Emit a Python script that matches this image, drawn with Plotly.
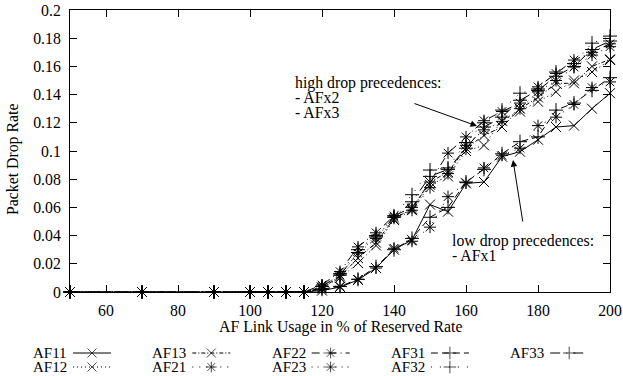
import plotly.graph_objects as go

# ---------------- data ----------------
usage = [50, 70, 90, 100, 105, 110, 115, 120, 125, 130, 135, 140, 145, 150, 155,
         160, 165, 170, 175, 180, 185, 190, 195, 200]
Z = [0, 0, 0, 0, 0, 0, 0]
af11 = Z + [0.001, 0.0035, 0.0085, 0.017, 0.030, 0.037, 0.062, 0.057, 0.077, 0.078,
            0.096, 0.0995, 0.108, 0.117, 0.118, 0.130, 0.141]
af12 = Z + [0.003, 0.010, 0.0205, 0.033, 0.051, 0.058, 0.076, 0.082, 0.100, 0.104,
            0.1215, 0.128, 0.135, 0.142, 0.150, 0.156, 0.1645]
af13 = Z + [0.003, 0.011, 0.024, 0.035, 0.052, 0.059, 0.078, 0.085, 0.102, 0.111,
            0.117, 0.130, 0.138, 0.148, 0.148, 0.160, 0.165]
af21 = Z + [0.002, 0.004, 0.009, 0.017, 0.031, 0.036, 0.046, 0.0676, 0.0775, 0.088,
            0.097, 0.102, 0.118, 0.124, 0.133, 0.145, 0.149]
af22 = Z + [0.005, 0.0145, 0.032, 0.042, 0.054, 0.060, 0.078, 0.0985, 0.110, 0.1215,
            0.128, 0.134, 0.1455, 0.155, 0.1645, 0.170, 0.176]
af23 = Z + [0.004, 0.012, 0.0275, 0.038, 0.053, 0.058, 0.074, 0.084, 0.104, 0.115,
            0.121, 0.130, 0.142, 0.150, 0.1595, 0.168, 0.174]
af31 = Z + [0.002, 0.004, 0.009, 0.018, 0.030, 0.038, 0.053, 0.060, 0.078, 0.087,
            0.098, 0.1066, 0.110, 0.129, 0.134, 0.143, 0.152]
af32 = Z + [0.004, 0.013, 0.030, 0.040, 0.054, 0.069, 0.0865, 0.088, 0.106, 0.120,
            0.129, 0.141, 0.144, 0.156, 0.162, 0.1765, 0.1815]
af33 = Z + [0.004, 0.012, 0.028, 0.039, 0.053, 0.064, 0.082, 0.087, 0.102, 0.117,
            0.124, 0.136, 0.143, 0.153, 0.160, 0.172, 0.178]

names = ["AF11", "AF12", "AF13", "AF21", "AF22", "AF23", "AF31", "AF32", "AF33"]
values = [af11, af12, af13, af21, af22, af23, af31, af32, af33]
symbols = ["x-thin", "x-thin", "x-thin", "asterisk-open", "asterisk-open", "asterisk-open",
           "cross-thin", "cross-thin", "cross-thin"]
dashes = ["solid", "1px,3px", "4px,2px,1px,2px", "1px,6px", "8px,4px,1px,4px",
          "1px,5px", "7px,4px", "1px,8px", "10px,6px,1px,6px"]

xtick_vals = [60, 80, 100, 120, 140, 160, 180, 200]
ytick_vals = [0, 0.02, 0.04, 0.06, 0.08, 0.1, 0.12, 0.14, 0.16, 0.18, 0.2]
ytick_text = ["0", "0.02", "0.04", "0.06", "0.08", "0.1", "0.12", "0.14", "0.16", "0.18", "0.2"]

# ---------------- layout constants ----------------
W, H = 623, 376
PL, PR, PT, PB = 70, 610, 10, 292
FONT = "Liberation Serif"
FS = 15.8
KEY_FS = 15
INK = "black"
MS = 10

fig = go.Figure()

for n, v, s, d in zip(names, values, symbols, dashes):
    fig.add_trace(go.Scatter(
        x=usage, y=v, name=n, mode="lines+markers",
        line=dict(color=INK, width=1, dash=d),
        marker=dict(symbol=s, size=MS, color=INK, line=dict(color=INK, width=1)),
        showlegend=False, cliponaxis=False, hoverinfo="skip"))

# ---------------- custom gnuplot-style key (text then sample) ----------------
col_x0, col_step = 31, 119.3
row_y = [353, 367]
ann = []
for i, (n, s, d) in enumerate(zip(names, symbols, dashes)):
    col, row = divmod(i, 2)
    if n == "AF33":
        col, row = 4, 0
    tx = col_x0 + col * col_step
    ty = row_y[row]
    ann.append(dict(x=tx, y=ty, xref="x2", yref="y2", text=n, showarrow=False,
                    xanchor="left", yanchor="middle",
                    font=dict(family=FONT, size=KEY_FS, color=INK)))
    lx0, lx1 = tx + 42, tx + 80
    fig.add_trace(go.Scatter(
        x=[lx0, tx + 61, lx1], y=[ty] * 3, xaxis="x2", yaxis="y2",
        mode="lines+markers", line=dict(color=INK, width=1, dash=d),
        marker=dict(symbol=s, size=[0, 9, 0], color=INK, line=dict(color=INK, width=1)),
        showlegend=False, hoverinfo="skip", cliponaxis=False))

# ---------------- annotations with arrows ----------------
high_lines = ["high drop precedences:", "- AFx2", "- AFx3"]
low_lines = ["low drop precedences:", "- AFx1"]
for k, t in enumerate(high_lines):
    ann.append(dict(x=293, y=83 + 14.5 * k, xref="x2", yref="y2", text=t,
                    showarrow=False, xanchor="left", yanchor="middle",
                    font=dict(family=FONT, size=FS, color=INK)))
for k, t in enumerate(low_lines):
    ann.append(dict(x=450, y=241 + 14 * k, xref="x2", yref="y2", text=t,
                    showarrow=False, xanchor="left", yanchor="middle",
                    font=dict(family=FONT, size=FS, color=INK)))
ann.append(dict(x=477, y=126, xref="x2", yref="y2", ax=413, ay=103,
                axref="x2", ayref="y2", text="", showarrow=True, arrowhead=2,
                arrowsize=1.3, arrowwidth=1, arrowcolor=INK))
ann.append(dict(x=513, y=160, xref="x2", yref="y2", ax=523, ay=223,
                axref="x2", ayref="y2", text="", showarrow=True, arrowhead=2,
                arrowsize=1.3, arrowwidth=1, arrowcolor=INK))

ann.append(dict(x=(PL + PR) / 2, y=327, xref="x2", yref="y2",
                text="AF Link Usage in % of Reserved Rate", showarrow=False,
                xanchor="center", yanchor="middle",
                font=dict(family=FONT, size=FS, color=INK)))
ann.append(dict(x=13, y=160, xref="x2", yref="y2", text="Packet Drop Rate",
                showarrow=False, textangle=-90, xanchor="center", yanchor="middle",
                font=dict(family=FONT, size=FS, color=INK)))

axis_common = dict(showline=True, linecolor=INK, linewidth=1, mirror="ticks",
                   ticks="inside", ticklen=7, tickcolor=INK, tickwidth=1,
                   showgrid=False, zeroline=False, automargin=False,
                   tickfont=dict(family=FONT, size=FS, color=INK))

fig.update_layout(
    width=W, height=H, margin=dict(l=0, r=0, t=0, b=0, autoexpand=False),
    paper_bgcolor="white", plot_bgcolor="rgba(0,0,0,0)",
    font=dict(family=FONT, size=FS, color=INK),
    hovermode=False,
    xaxis=dict(domain=[PL / W, PR / W], range=[50, 200], tickvals=xtick_vals,
               ticklabelstandoff=4, anchor="y", **axis_common),
    yaxis=dict(domain=[1 - PB / H, 1 - PT / H], range=[0, 0.2], tickvals=ytick_vals,
               ticktext=ytick_text, ticklabelstandoff=5, anchor="x", **axis_common),
    xaxis2=dict(domain=[0, 1], range=[0, W], visible=False, anchor="y2", fixedrange=True),
    yaxis2=dict(domain=[0, 1], range=[H, 0], visible=False, anchor="x2", fixedrange=True),
    annotations=ann,
    showlegend=False,
)

fig.write_html(
    "out.html",
    config={"displayModeBar": False, "staticPlot": True},
    post_script="document.body.style.margin='0';document.body.style.overflow='hidden';",
)
